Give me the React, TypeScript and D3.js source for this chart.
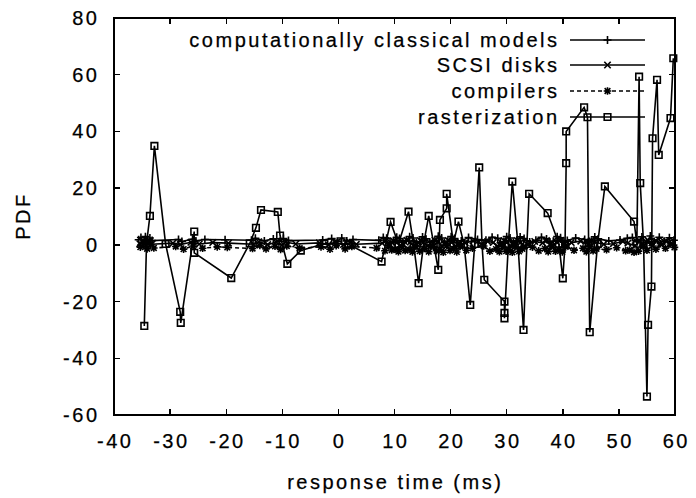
import React from "react";
import * as d3 from "d3";

const W = 696;
const H = 498;

const xTicks = [-40, -30, -20, -10, 0, 10, 20, 30, 40, 50, 60];
const yTicks = [-60, -40, -20, 0, 20, 40, 60, 80];

const seriesNames = ["computationally classical models", "SCSI disks", "compilers", "rasterization"];

const classical: [number, number][] = [
  [-35.6, 1.8], [-35.2, 2.6], [-34.8, 0.9], [-34.4, 2.9], [-34, 1.2], [-33.6, 2.4], [-33.2, 1.5],
  [-28.5, 1.9], [-27.9, 1.2], [-26, 2], [-25.4, 1.4], [-23.8, 1.9], [-20.2, 1.8], [-15.5, 1.6], [-14.8, 2.3],
  [-13.2, 1.4], [-11.6, 2.1], [-10.5, 1.2], [-9.8, 2.2], [-8.9, 1.5], [-2.8, 1.7], [-1.2, 2.2],
  [-0.2, 1.3], [0.6, 2.4], [1.5, 1.4], [2.6, 1.9], [7.2, 1.6], [8, 2.6], [8.6, 2.3], [9.2, 0.8], [9.8, 1.3],
  [10.4, 2.7], [10.9, 2.2], [11.5, 0.9], [12.1, 1.5], [12.7, 2.9], [13.3, 2.4], [13.9, 0.7], [14.5, 1.2],
  [15, 2.8], [15.6, 2.1], [16.3, 0.9], [17.2, 1.5], [17.8, 3], [18.4, 2.4], [18.9, 0.8], [19.5, 1.3],
  [20.1, 2.9], [20.7, 2.2], [21.3, 0.7], [21.9, 1.4], [23.2, 2.6], [24.8, 1.9], [26.3, 1.6], [27.4, 2.7],
  [28.4, 2.3], [28.9, 0.7], [29.5, 1.1], [30, 2.9], [30.6, 2.4], [31.2, 0.8], [31.8, 1.4], [32.4, 2.8],
  [33.1, 2.2], [34.1, 1], [35.2, 1.6], [36.2, 2.7], [37.1, 2.1], [37.7, 0.8], [38.3, 1.3], [39, 2.9],
  [39.6, 2.5], [40.2, 0.9], [40.8, 1.5], [42.3, 2.4], [43.9, 1.9], [44.5, 0.8], [45.1, 1.2], [45.7, 2.8],
  [46.3, 2.1], [48.2, 1.4], [50.2, 1.7], [51.5, 2.3], [52.4, 2.6], [53.3, 1.1], [54.1, 2.8],
  [54.9, 0.8], [55.6, 3.1], [56.3, 1.2], [57.2, 2.7], [58.1, 1.3], [59, 2.5], [59.8, 1.6],
];

const scsi: [number, number][] = [
  [-35.4, 0.4], [-34.9, 1.3], [-34.3, -0.2], [-33.8, 1.1], [-33.3, 0.2], [-29.5, 0.6], [-28.2, 0.1],
  [-26.3, 0.9], [-24.8, 0.3], [-22.4, 0.8], [-19.6, 0.6], [-15.1, 0.2], [-14.2, 1.1], [-12.6, 0.1], [-11.1, 0.9],
  [-10.1, -0.1], [-9.4, 1], [-7.6, 0.3], [-3.4, 0.7], [-1.8, 0], [-0.6, 1], [0.9, 0.1], [2.1, 0.8],
  [3.2, 0.2], [7.8, 0.6], [8.5, 1.5], [9.2, -0.2], [9.8, 1.4], [10.4, 0.9], [11, -0.4], [11.6, 0.1],
  [12.2, 1.6], [12.8, 1], [13.4, -0.5], [14, 0.2], [14.6, 1.5], [15.1, 0.8], [15.9, -0.3], [16.6, 0],
  [17.2, 1.6], [17.8, 1.1], [18.4, -0.4], [19, 0.2], [19.6, 1.5], [20.2, 0.9], [20.8, -0.4], [21.4, 0],
  [22.6, 0.7], [24, 1.4], [25.5, 0.3], [26.6, 1.2], [27.6, 0.8], [28.3, -0.4], [28.9, -0.1], [29.5, 1.5],
  [30, 1], [30.6, -0.3], [31.2, 0.2], [31.9, 1.5], [32.5, 0.9], [33.1, -0.4], [33.7, 0.1], [35, 1.2],
  [36.4, 0.7], [37.1, 1.5], [37.7, 0], [38.3, -0.5], [38.9, 1], [39.6, 1.6], [40.2, 0.2], [40.9, -0.4],
  [41.5, 0.8], [43.2, 1.3], [44.5, 0.1], [45.1, 1.5], [45.7, 0.9], [47.3, 0.2], [49, 0.4], [50.7, 1.2],
  [51.6, 0.6], [52.9, -0.3], [53.7, 1.4], [54.5, -0.2], [55.2, 1.6], [55.9, -0.4], [56.7, 1.3],
  [57.6, 0], [58.5, 1.2], [59.4, 0.1],
];

const compilers: [number, number][] = [
  [-35.3, -0.8], [-34.7, 0.6], [-34.1, -1.4], [-33.5, 0.2], [-32.9, -1.1], [-29, -0.6], [-27.6, -1.5],
  [-25.9, -0.4], [-24.2, -1.2], [-21.6, -0.7], [-19.8, -0.9], [-15.3, -1.3], [-14, -0.2], [-12.9, -1.4], [-11.3, -0.5],
  [-10.3, -1.6], [-9.2, -0.4], [-6.9, -1.2], [-3.1, -0.7], [-1.5, -1.5], [-0.4, -0.3], [1.2, -1.4],
  [2.4, -0.6], [6.8, -1.1], [8.3, -2.1], [8.9, -0.3], [9.5, -1.8], [10.1, -1.5], [10.7, -2.4], [11.3, -0.5],
  [11.9, -2], [12.6, -1.6], [13.2, -2.5], [13.8, -0.4], [14.5, -2.2], [15.3, -1.3], [16.1, -2.4],
  [16.9, -0.5], [17.5, -2.1], [18.1, -1.6], [18.7, -2.6], [19.3, -0.3], [19.9, -2], [20.5, -1.4],
  [21.1, -2.5], [21.7, -0.6], [22.8, -1.9], [23.9, -1.2], [25.9, -0.4], [27, -2.2], [28.1, -1.5],
  [28.7, -2.4], [29.3, -0.5], [29.9, -2.2], [30.4, -1.7], [31, -2.6], [31.5, -0.6], [32.2, -2.3],
  [32.8, -1.4], [34.6, -0.8], [35.7, -2.1], [36.8, -1.3], [37.4, -2.4], [38, -0.4], [38.7, -2.2],
  [39.3, -1.6], [39.9, -2.5], [40.5, -0.7], [42, -1.9], [43.6, -1.2], [44.2, -2.4], [44.8, -0.5],
  [45.4, -2.1], [46, -1.4], [47.8, -1.7], [49.6, -1], [51.2, -2.1], [51.9, -1.8], [52.7, -2.6],
  [53.5, -2.2], [54.3, -0.4], [55, -1.9], [55.8, 0.6], [56.6, -1.5], [57.4, 0.4], [58.3, -1.2],
  [59.2, 0.3], [59.9, -0.9],
];

const rasterization: [number, number][] = [
  [-34.6, -28.6], [-34.2, 0.5], [-33.6, 10.2], [-32.8, 34.9], [-30.8, 0.3], [-28.2, -23.6], [-28.1, -27.5],
  [-25.7, 4.7], [-25.7, -2.8], [-19.1, -11.7], [-15.8, 0.5], [-14.7, 6], [-13.8, 12.3], [-10.8, 11.6],
  [-10.4, 3.3], [-9.1, -6.7], [-6.7, -2], [-2.5, 0.4], [1.8, 0.2], [7.7, -5.9], [9.3, 8.1], [10.7, 0.3],
  [12.5, 11.7], [13.4, 0.2], [14.3, -13.5], [15.2, 0.4], [16.1, 10.2], [17, 0.2], [17.8, -8.8],
  [18.1, 8.8], [19.3, 12.9], [19.3, 18], [20.5, 0.5], [21.4, 8.2], [22.4, 0.2], [23.5, -21.2],
  [24.3, 0.3], [25.1, 27.3], [25.6, 0.4], [26, -12.3], [29.6, -20], [29.6, -24], [29.6, -25.9],
  [30.3, 0.3], [31, 22.3], [32, 0.2], [33, -30], [33.6, 0.3], [34, 18], [37.3, 11.2], [39.3, 0.4],
  [40, -11.8], [40.4, 0.2], [40.6, 28.8], [40.6, 40], [43.8, 48.5], [44.4, 45], [44.6, 0.5],
  [44.8, -30.8], [46.2, 0.3], [47.5, 20.6], [52.7, 8.2], [53.2, 0.4], [53.6, 59.3], [53.8, 21.8],
  [54.4, 0.2], [55, -53.5], [55.2, -28.2], [55.8, -14.7], [56, 37.6], [56.8, 58.2], [57.1, 31.7],
  [59.2, 44.7], [59.7, 65.8],
];

const margin = { left: 114, right: 21, top: 18, bottom: 83 };
const FONT = "'Liberation Sans', Arial, Helvetica, sans-serif";
const FS = 20;
const LS = 2.5;
const SW = 1.6;

type Marker = "plus" | "cross" | "star" | "square";

function markerPath(kind: Marker, s: number): string {
  if (kind === "plus") return `M${-s},0H${s}M0,${-s}V${s}`;
  if (kind === "cross") return `M${-s},${-s}L${s},${s}M${-s},${s}L${s},${-s}`;
  if (kind === "star") return `M${-s},0H${s}M0,${-s}V${s}M${-s * 0.75},${-s * 0.75}L${s * 0.75},${s * 0.75}M${-s * 0.75},${s * 0.75}L${s * 0.75},${-s * 0.75}`;
  return `M${-s},${-s}H${s}V${s}H${-s}Z`;
}

export default function App() {
  const x = d3.scaleLinear().domain([-40, 60]).range([margin.left, W - margin.right]);
  const y = d3.scaleLinear().domain([-60, 80]).range([H - margin.bottom, margin.top]);
  const line = d3
    .line<[number, number]>()
    .x((d) => x(d[0]))
    .y((d) => y(d[1]));

  const series: { name: string; data: [number, number][]; marker: Marker; dash?: string; size: number }[] = [
    { name: seriesNames[0], data: classical, marker: "plus", size: 4 },
    { name: seriesNames[1], data: scsi, marker: "cross", size: 3.2 },
    { name: seriesNames[2], data: compilers, marker: "star", size: 3.8, dash: "4,3" },
    { name: seriesNames[3], data: rasterization, marker: "square", size: 3.3 },
  ];

  const x0 = margin.left;
  const x1 = W - margin.right;
  const y0 = margin.top;
  const y1 = H - margin.bottom;
  const tl = 6;

  const legendTextX = 557;
  const legendL0 = 570;
  const legendL1 = 645;
  const legendY = [40, 65, 91, 117];

  return (
    <svg
      width={W}
      height={H}
      style={{ position: "absolute", left: 0, top: 0, background: "#fff" }}
      fontFamily={FONT}
      fontSize={FS}
    >
      <rect x={0} y={0} width={W} height={H} fill="#fff" />
      {series.map((s, i) => (
        <g key={i}>
          <path d={line(s.data) || ""} fill="none" stroke="#000" strokeWidth={SW} strokeDasharray={s.dash} />
          {s.data.map((d, j) => (
            <path
              key={j}
              d={markerPath(s.marker, s.size)}
              transform={`translate(${x(d[0])},${y(d[1])})`}
              fill="none"
              stroke="#000"
              strokeWidth={SW}
            />
          ))}
        </g>
      ))}
      <rect x={x0} y={y0} width={x1 - x0} height={y1 - y0} fill="none" stroke="#000" strokeWidth={1.6} shapeRendering="crispEdges" />
      {xTicks.map((t) => (
        <g key={"x" + t}>
          <line x1={x(t)} x2={x(t)} y1={y1} y2={y1 - tl} stroke="#000" strokeWidth={1.4} shapeRendering="crispEdges" />
          <line x1={x(t)} x2={x(t)} y1={y0} y2={y0 + tl} stroke="#000" strokeWidth={1.4} shapeRendering="crispEdges" />
          <text x={x(t) + LS / 2} y={448} textAnchor="middle" letterSpacing={LS} stroke="#000" strokeWidth={0.25}>
            {t}
          </text>
        </g>
      ))}
      {yTicks.map((t) => (
        <g key={"y" + t}>
          <line x1={x0} x2={x0 + tl} y1={y(t)} y2={y(t)} stroke="#000" strokeWidth={1.4} shapeRendering="crispEdges" />
          <line x1={x1} x2={x1 - tl} y1={y(t)} y2={y(t)} stroke="#000" strokeWidth={1.4} shapeRendering="crispEdges" />
          <text x={97 + LS} y={y(t) + 7} textAnchor="end" letterSpacing={LS} stroke="#000" strokeWidth={0.25}>
            {t}
          </text>
        </g>
      ))}
      <text x={394 + LS / 2} y={489} textAnchor="middle" letterSpacing={LS} stroke="#000" strokeWidth={0.25}>
        response time (ms)
      </text>
      <text transform={`translate(30,216) rotate(-90)`} textAnchor="middle" letterSpacing={LS} stroke="#000" strokeWidth={0.25}>
        PDF
      </text>
      {series.map((s, i) => (
        <g key={"l" + i}>
          <text x={legendTextX + LS} y={legendY[i] + 7} textAnchor="end" letterSpacing={LS} stroke="#000" strokeWidth={0.25}>
            {s.name}
          </text>
          <line x1={legendL0} x2={legendL1} y1={legendY[i]} y2={legendY[i]} stroke="#000" strokeWidth={SW} strokeDasharray={s.dash} />
          <path
            d={markerPath(s.marker, s.size)}
            transform={`translate(${(legendL0 + legendL1) / 2},${legendY[i]})`}
            fill="none"
            stroke="#000"
            strokeWidth={SW}
          />
        </g>
      ))}
    </svg>
  );
}
